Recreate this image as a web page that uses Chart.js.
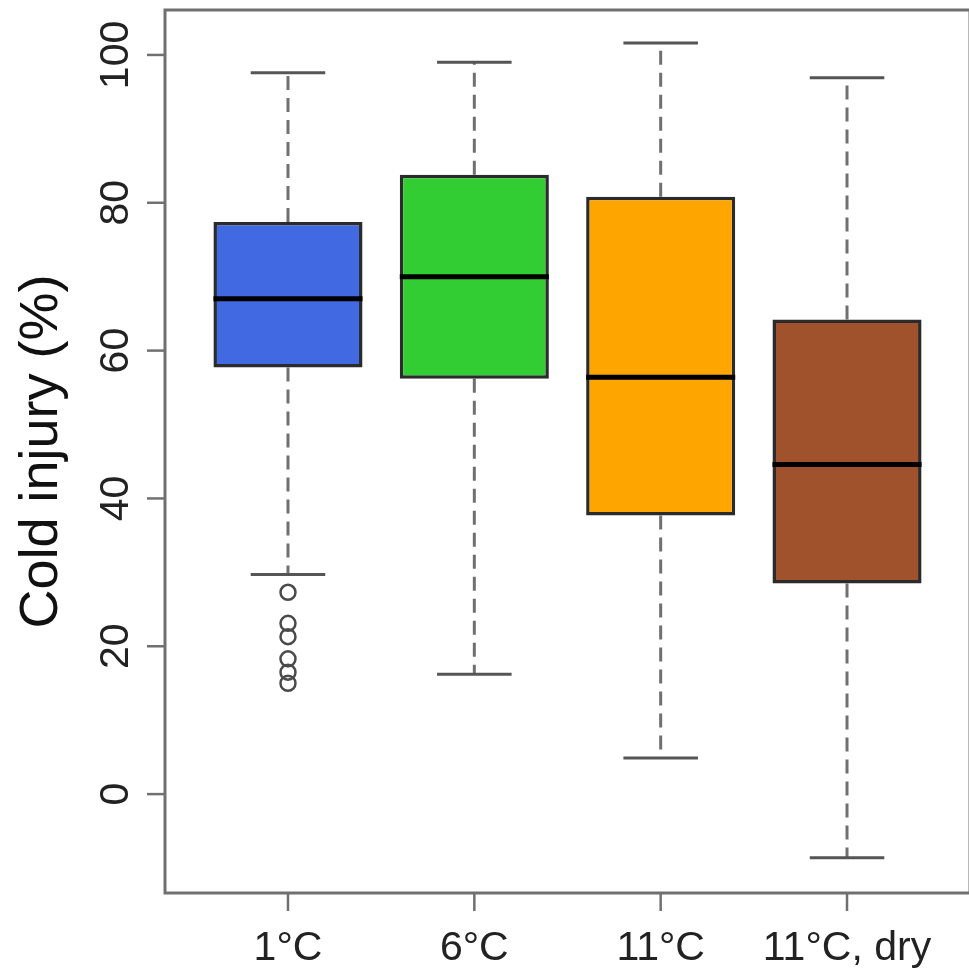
<!DOCTYPE html>
<html>
<head>
<meta charset="utf-8">
<script src="https://cdn.jsdelivr.net/npm/chart.js@4/dist/chart.umd.min.js"></script>
<style>
  html, body { margin: 0; padding: 0; background: #fff; overflow: hidden; }
  #caja { width: 969px; height: 970px; overflow: hidden; }
</style>
</head>
<body>
<div id="caja"><canvas id="grafico" width="980" height="970"></canvas></div>
<script>
const categorias = ["1°C", "6°C", "11°C", "11°C, dry"];
const colores = ["#4169E1", "#32CD32", "#FFA500", "#A0522D"];
const minimos = [29.7, 16.2, 4.9, -8.6];
const cuartil1 = [57.7, 56.2, 37.7, 28.5];
const medianas = [67.0, 70.0, 56.4, 44.6];
const cuartil3 = [77.4, 83.8, 80.8, 64.2];
const maximos = [97.6, 99.0, 101.6, 96.9];
const atipicos1 = [27.3, 23.1, 21.3, 18.3, 16.5, 15.0]; // solo el grupo 1°C
const ticksY = [0, 20, 40, 60, 80, 100];
const tituloY = "Cold injury (%)";

const cajas = categorias.map((c, i) => ({ x: i + 1, y: [cuartil1[i], cuartil3[i]] }));
const puntos = atipicos1.map(v => ({ x: 1, y: v }));

// bigotes, medianas, marco y ejes al estilo R
const estiloR = {
  id: "estiloR",
  beforeDatasetsDraw(chart) {
    const ctx = chart.ctx;
    const x = chart.scales.x, y = chart.scales.y;
    ctx.save();
    for (let i = 0; i < categorias.length; i++) {
      const px = x.getPixelForValue(i + 1);
      ctx.strokeStyle = "#707070";
      ctx.lineWidth = 3;
      ctx.setLineDash([14, 8]);
      ctx.beginPath();
      ctx.moveTo(px, y.getPixelForValue(cuartil3[i]));
      ctx.lineTo(px, y.getPixelForValue(maximos[i]));
      ctx.moveTo(px, y.getPixelForValue(cuartil1[i]));
      ctx.lineTo(px, y.getPixelForValue(minimos[i]));
      ctx.stroke();
      ctx.setLineDash([]);
      ctx.strokeStyle = "#555";
      ctx.lineWidth = 3;
      const a = x.getPixelForValue(i + 1 - 0.2), b = x.getPixelForValue(i + 1 + 0.2);
      ctx.beginPath();
      ctx.moveTo(a, y.getPixelForValue(maximos[i]));
      ctx.lineTo(b, y.getPixelForValue(maximos[i]));
      ctx.moveTo(a, y.getPixelForValue(minimos[i]));
      ctx.lineTo(b, y.getPixelForValue(minimos[i]));
      ctx.stroke();
    }
    ctx.restore();
  },
  afterDatasetsDraw(chart) {
    const ctx = chart.ctx;
    const x = chart.scales.x, y = chart.scales.y;
    const area = chart.chartArea;
    ctx.save();
    // medianas
    ctx.strokeStyle = "#000";
    ctx.lineWidth = 5;
    for (let i = 0; i < categorias.length; i++) {
      const py = y.getPixelForValue(medianas[i]);
      ctx.beginPath();
      ctx.moveTo(x.getPixelForValue(i + 1 - 0.4), py);
      ctx.lineTo(x.getPixelForValue(i + 1 + 0.4), py);
      ctx.stroke();
    }
    // marco
    ctx.strokeStyle = "#707070";
    ctx.lineWidth = 3;
    ctx.strokeRect(area.left, area.top, area.right - area.left, area.bottom - area.top);
    // ticks eje y
    ctx.lineWidth = 2.5;
    ctx.fillStyle = "#222";
    ctx.font = "41px 'Liberation Sans', Arial, sans-serif";
    ctx.textAlign = "center";
    ctx.textBaseline = "alphabetic";
    ticksY.forEach(t => {
      const py = y.getPixelForValue(t);
      ctx.beginPath();
      ctx.moveTo(area.left - 18, py);
      ctx.lineTo(area.left, py);
      ctx.stroke();
      ctx.save();
      ctx.translate(128, py);
      ctx.rotate(-Math.PI / 2);
      ctx.fillText(String(t), 0, 0);
      ctx.restore();
    });
    // ticks eje x
    categorias.forEach((c, i) => {
      const px = x.getPixelForValue(i + 1);
      ctx.beginPath();
      ctx.moveTo(px, area.bottom);
      ctx.lineTo(px, area.bottom + 18);
      ctx.stroke();
      ctx.fillText(c, px, 960);
    });
    // titulo y
    ctx.fillStyle = "#111";
    ctx.font = "54px 'Liberation Sans', Arial, sans-serif";
    ctx.translate(57, (area.top + area.bottom) / 2);
    ctx.rotate(-Math.PI / 2);
    ctx.fillText(tituloY, 0, 0);
    ctx.restore();
  }
};

const ctx = document.getElementById("grafico").getContext("2d");
const grafico = new Chart(ctx, {
  type: "bar",
  data: {
    datasets: [
      {
        type: "bar",
        data: cajas,
        backgroundColor: colores,
        borderColor: "#2b2b2b",
        borderWidth: 3.5,
        borderSkipped: false,
        barPercentage: 0.8,
        categoryPercentage: 1.0,
      },
      {
        type: "scatter",
        data: puntos,
        pointStyle: "circle",
        pointRadius: 7.5,
        backgroundColor: "rgba(0,0,0,0)",
        borderColor: "#4a4a4a",
        borderWidth: 2.5,
      },
    ],
  },
  options: {
    responsive: false,
    animation: false,
    layout: { padding: { left: 165, top: 9, right: 6, bottom: 77 } },
    plugins: { legend: { display: false }, tooltip: { enabled: false } },
    scales: {
      x: {
        type: "linear", offset: false, min: 0.34, max: 4.66, display: false,
        // un tick por grupo, asi el ancho de la caja sale de la separacion entre grupos
        afterBuildTicks: s => { s.ticks = categorias.map((c, i) => ({ value: i + 1 })); },
      },
      y: { type: "linear", min: -13.38, max: 106.08, display: false },
    },
  },
  plugins: [estiloR],
});
</script>
</body>
</html>
